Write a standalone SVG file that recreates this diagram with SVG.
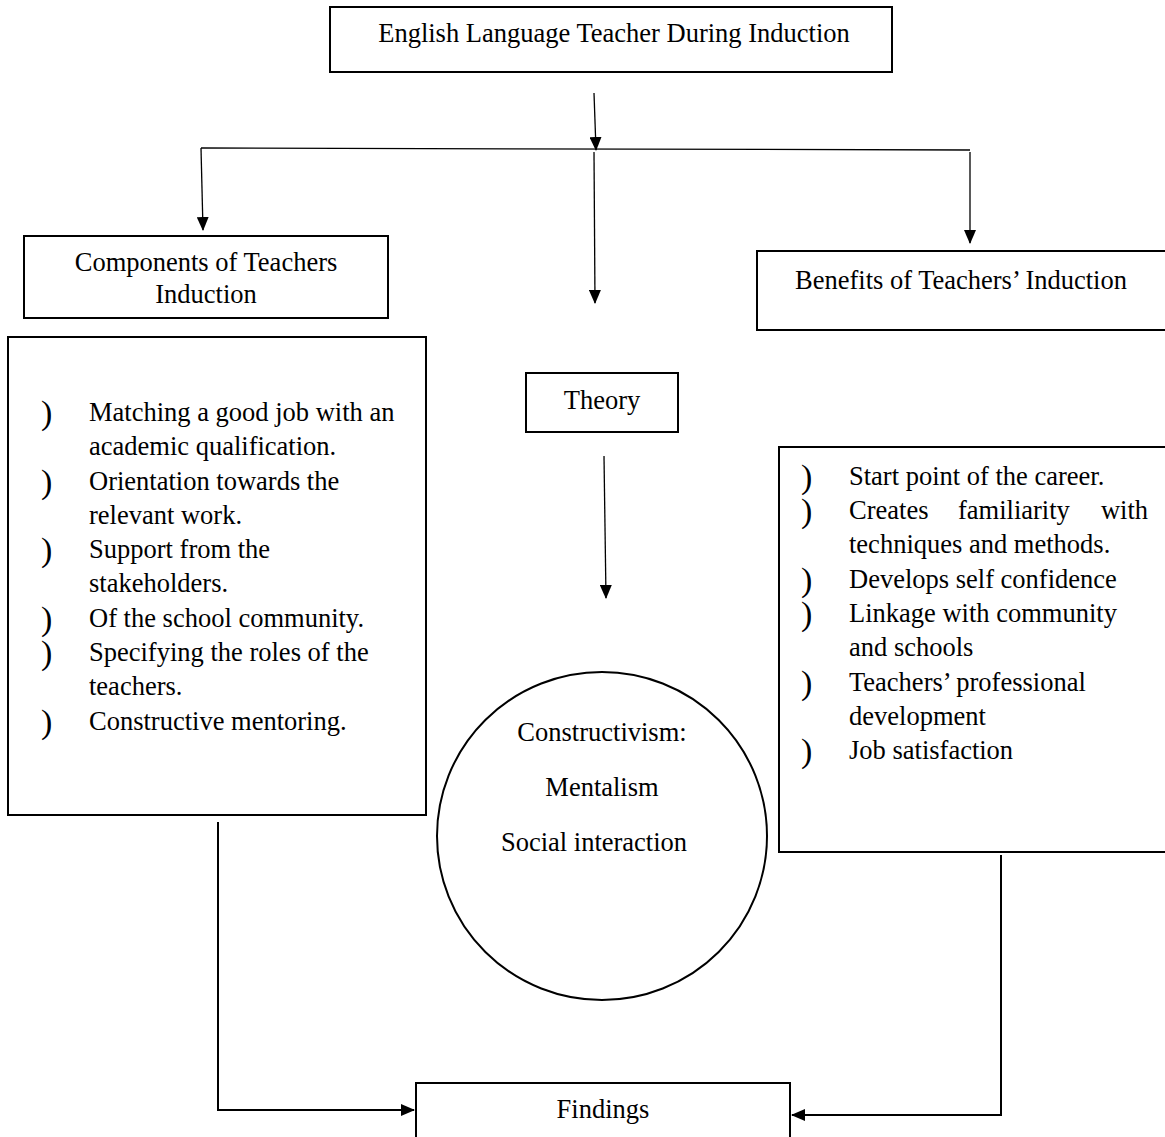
<svg xmlns="http://www.w3.org/2000/svg" width="1165" height="1137" viewBox="0 0 1165 1137">
<defs>
<style>
.box{fill:#fff;stroke:#000;stroke-width:2}
.ln{fill:none;stroke:#000;stroke-width:1.3}
.ln2{fill:none;stroke:#000;stroke-width:2}
text{font-family:"Liberation Serif","Times New Roman",serif;font-size:26.5px;fill:#000}
.c{text-anchor:middle}
.b{font-size:34px;font-weight:300}
</style>
<marker id="ah2" markerWidth="14" markerHeight="12" refX="13" refY="6" orient="auto" markerUnits="userSpaceOnUse" viewBox="0 0 14 12">
<path d="M0,0 L14,6 L0,12 z" fill="#000"/>
</marker>
</defs>
<rect width="1165" height="1137" fill="#fff"/>

<g id="connectors">
<line class="ln" x1="594" y1="93" x2="596" y2="150" marker-end="url(#ah2)"/>
<line class="ln" x1="201" y1="148" x2="970" y2="150"/>
<line class="ln" x1="201" y1="148" x2="203" y2="230" marker-end="url(#ah2)"/>
<line class="ln" x1="594" y1="152" x2="595" y2="303" marker-end="url(#ah2)"/>
<line class="ln" x1="970" y1="152" x2="970" y2="243" marker-end="url(#ah2)"/>
<line class="ln" x1="604" y1="456" x2="606" y2="598" marker-end="url(#ah2)"/>
<polyline class="ln2" points="218,822 218,1110 414,1110" marker-end="url(#ah2)"/>
<polyline class="ln2" points="1001,855 1001,1115 792,1115" marker-end="url(#ah2)"/>
</g>

<g id="top">
<rect class="box" x="330" y="7" width="562" height="65"/>
<text class="c" x="614" y="42">English Language Teacher During Induction</text>
</g>

<g id="components">
<rect class="box" x="24" y="236" width="364" height="82"/>
<text class="c" x="206" y="271">Components of Teachers</text>
<text class="c" x="206" y="303">Induction</text>
</g>

<g id="benefits">
<rect class="box" x="757" y="251" width="410" height="79"/>
<text class="c" x="961" y="289">Benefits of Teachers’ Induction</text>
</g>

<g id="component-list">
<rect class="box" x="8" y="337" width="418" height="478"/>
<text class="b" x="41" y="424">)</text>
<text x="89" y="421">Matching a good job with an</text>
<text x="89" y="455">academic qualification.</text>
<text class="b" x="41" y="493">)</text>
<text x="89" y="490">Orientation towards the</text>
<text x="89" y="524">relevant work.</text>
<text class="b" x="41" y="561">)</text>
<text x="89" y="558">Support from the</text>
<text x="89" y="592">stakeholders.</text>
<text class="b" x="41" y="630">)</text>
<text x="89" y="627">Of the school community.</text>
<text class="b" x="41" y="664">)</text>
<text x="89" y="661">Specifying the roles of the</text>
<text x="89" y="695">teachers.</text>
<text class="b" x="41" y="733">)</text>
<text x="89" y="730">Constructive mentoring.</text>
</g>

<g id="theory">
<rect class="box" x="526" y="373" width="152" height="59"/>
<text class="c" x="602" y="409">Theory</text>
</g>

<g id="constructivism">
<ellipse class="box" cx="602" cy="836" rx="165" ry="164"/>
<text class="c" x="602" y="741">Constructivism:</text>
<text class="c" x="602" y="796">Mentalism</text>
<text class="c" x="594" y="851">Social interaction</text>
</g>

<g id="benefit-list">
<rect class="box" x="779" y="447" width="390" height="405"/>
<text class="b" x="801" y="488">)</text>
<text x="849" y="485">Start point of the career.</text>
<text class="b" x="801" y="522">)</text>
<text x="849" y="519">Creates</text>
<text x="958" y="519">familiarity</text>
<text x="1148" y="519" text-anchor="end">with</text>
<text x="849" y="553">techniques and methods.</text>
<text class="b" x="801" y="591">)</text>
<text x="849" y="588">Develops self confidence</text>
<text class="b" x="801" y="625">)</text>
<text x="849" y="622">Linkage with community</text>
<text x="849" y="656">and schools</text>
<text class="b" x="801" y="694">)</text>
<text x="849" y="691">Teachers’ professional</text>
<text x="849" y="725">development</text>
<text class="b" x="801" y="762">)</text>
<text x="849" y="759">Job satisfaction</text>
</g>

<g id="findings">
<rect class="box" x="416" y="1083" width="374" height="60"/>
<text class="c" x="603" y="1118">Findings</text>
</g>
</svg>
